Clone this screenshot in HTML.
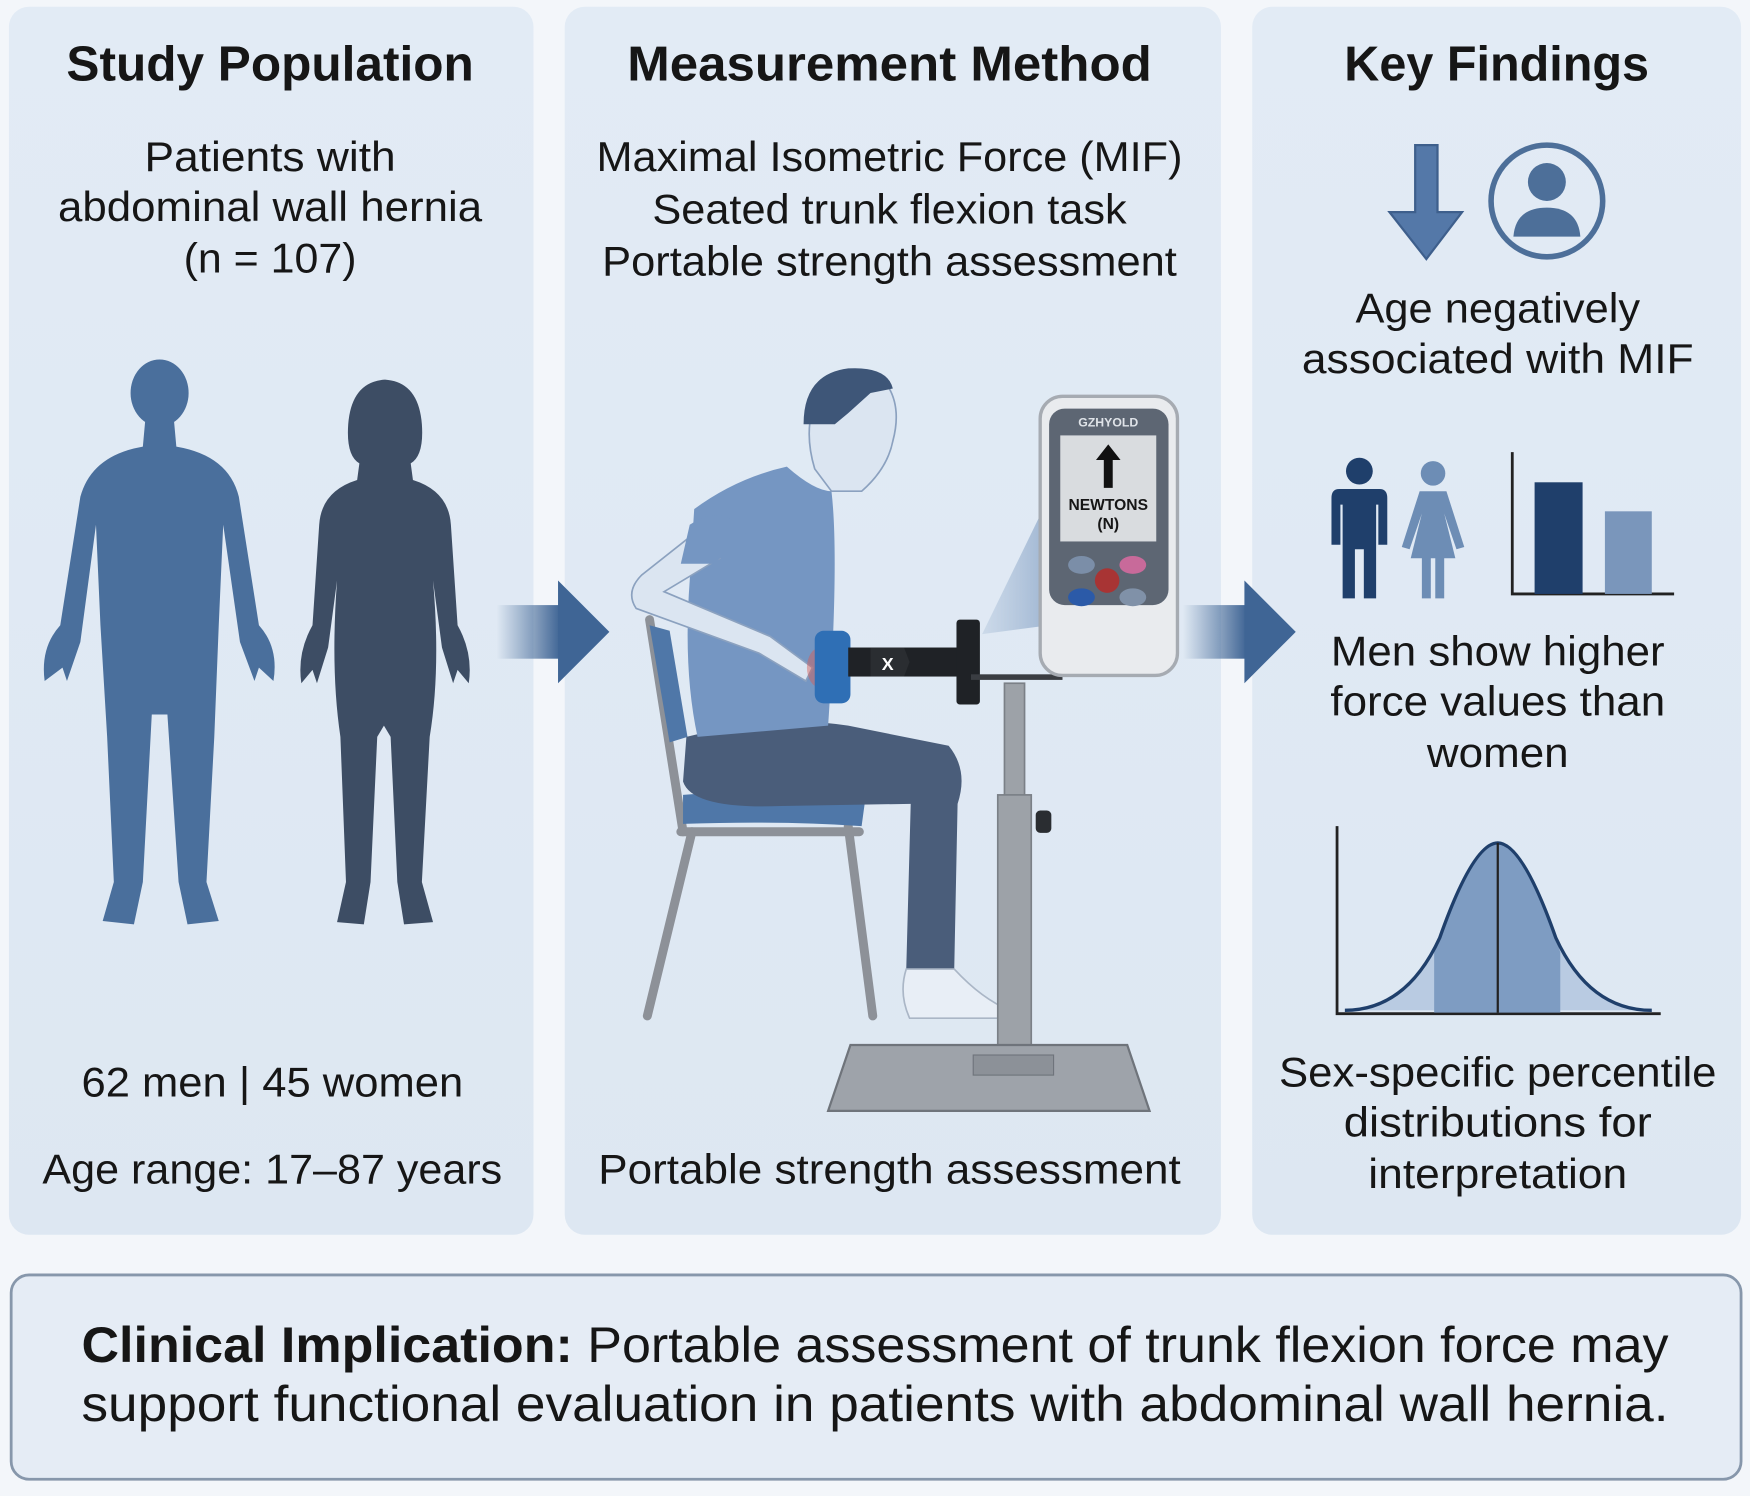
<!DOCTYPE html>
<html><head><meta charset="utf-8"><style>
html,body{margin:0;padding:0;background:#f3f6fa;}
svg{display:block;}
text{font-family:"Liberation Sans",sans-serif;fill:#161616;}
.t{font-weight:bold;font-size:44px;}
.b{font-size:37px;}
</style></head><body>
<svg width="1750" height="1496" viewBox="0 0 1568 1340" preserveAspectRatio="none" xmlns="http://www.w3.org/2000/svg">
<defs>
<linearGradient id="pg" x1="0" y1="0" x2="0" y2="1"><stop offset="0" stop-color="#e2ebf5"/><stop offset="1" stop-color="#dde7f2"/></linearGradient>
<linearGradient id="ag" x1="0" y1="0" x2="1" y2="0"><stop offset="0" stop-color="#3f6595" stop-opacity="0"/><stop offset="1" stop-color="#3f6595"/></linearGradient>
<linearGradient id="beam" x1="0" y1="0" x2="1" y2="0"><stop offset="0" stop-color="#9fb6d2" stop-opacity="0.3"/><stop offset="1" stop-color="#8ea8c9" stop-opacity="0.8"/></linearGradient>
</defs>
<rect width="1568" height="1340" fill="#f3f6fa"/>
<rect x="8" y="6" width="470" height="1100" rx="18" fill="url(#pg)"/>
<rect x="506" y="6" width="588" height="1100" rx="18" fill="url(#pg)"/>
<rect x="1122" y="6" width="438" height="1100" rx="18" fill="url(#pg)"/>
<rect x="10" y="1142" width="1550" height="183" rx="16" fill="#e5ecf5" stroke="#8797ab" stroke-width="2.5"/>

<!-- arrows -->
<rect x="445" y="542" width="57" height="48" fill="url(#ag)"/>
<polygon points="500,520 546,566 500,612" fill="#3f6595"/>
<rect x="1060" y="542" width="57" height="48" fill="url(#ag)"/>
<polygon points="1115,520 1161,566 1115,612" fill="#3f6595"/>

<!-- titles -->
<text class="t" x="242" y="72" text-anchor="middle" textLength="365" lengthAdjust="spacingAndGlyphs">Study Population</text>
<text class="t" x="797" y="72" text-anchor="middle" textLength="470" lengthAdjust="spacingAndGlyphs">Measurement Method</text>
<text class="t" x="1341" y="72" text-anchor="middle" textLength="273" lengthAdjust="spacingAndGlyphs">Key Findings</text>

<text class="b" x="242" y="153" text-anchor="middle" textLength="225" lengthAdjust="spacingAndGlyphs">Patients with</text>
<text class="b" x="242" y="198" text-anchor="middle" textLength="380" lengthAdjust="spacingAndGlyphs">abdominal wall hernia</text>
<text class="b" x="242" y="244" text-anchor="middle" textLength="155" lengthAdjust="spacingAndGlyphs">(n = 107)</text>
<text class="b" x="244" y="982" text-anchor="middle" textLength="342" lengthAdjust="spacingAndGlyphs">62 men | 45 women</text>
<text class="b" x="244" y="1060" text-anchor="middle" textLength="412" lengthAdjust="spacingAndGlyphs">Age range: 17–87 years</text>

<text class="b" x="797" y="153" text-anchor="middle" textLength="525" lengthAdjust="spacingAndGlyphs">Maximal Isometric Force (MIF)</text>
<text class="b" x="797" y="200" text-anchor="middle" textLength="425" lengthAdjust="spacingAndGlyphs">Seated trunk flexion task</text>
<text class="b" x="797" y="247" text-anchor="middle" textLength="515" lengthAdjust="spacingAndGlyphs">Portable strength assessment</text>
<text class="b" x="797" y="1060" text-anchor="middle" textLength="522" lengthAdjust="spacingAndGlyphs">Portable strength assessment</text>

<text class="b" x="1342" y="289" text-anchor="middle" textLength="255" lengthAdjust="spacingAndGlyphs">Age negatively</text>
<text class="b" x="1342" y="334" text-anchor="middle" textLength="351" lengthAdjust="spacingAndGlyphs">associated with MIF</text>
<text class="b" x="1342" y="596" text-anchor="middle" textLength="299" lengthAdjust="spacingAndGlyphs">Men show higher</text>
<text class="b" x="1342" y="641" text-anchor="middle" textLength="300" lengthAdjust="spacingAndGlyphs">force values than</text>
<text class="b" x="1342" y="687" text-anchor="middle" textLength="127" lengthAdjust="spacingAndGlyphs">women</text>
<text class="b" x="1342" y="973" text-anchor="middle" textLength="392" lengthAdjust="spacingAndGlyphs">Sex-specific percentile</text>
<text class="b" x="1342" y="1018" text-anchor="middle" textLength="276" lengthAdjust="spacingAndGlyphs">distributions for</text>
<text class="b" x="1342" y="1064" text-anchor="middle" textLength="232" lengthAdjust="spacingAndGlyphs">interpretation</text>

<text x="73" y="1220" font-size="45" textLength="1422" lengthAdjust="spacingAndGlyphs"><tspan font-weight="bold">Clinical Implication:</tspan> Portable assessment of trunk flexion force may</text>
<text x="73" y="1273" font-size="45" textLength="1422" lengthAdjust="spacingAndGlyphs">support functional evaluation in patients with abdominal wall hernia.</text>

<!-- left figures -->
<g fill="#4a6f9c">
<ellipse cx="143" cy="352" rx="26" ry="30"/>
<path d="M130,378 L156,378 L158,400 Q205,408 214,445 L232,560 Q250,580 245,610 L232,598 L228,610 L215,575 L200,470 L196,560 L192,660 L185,790 L196,825 L168,828 L160,790 L150,640 L136,640 L128,790 L120,828 L92,825 L102,790 L96,660 L90,560 L86,470 L72,575 L60,610 L56,598 L40,610 Q36,580 54,560 L72,445 Q82,408 128,400 Z"/>
</g>
<g fill="#3d4d64">
<path d="M345,340 Q375,342 378,380 Q380,408 368,415 L370,430 Q402,440 404,470 L410,560 Q424,585 420,612 L410,600 L406,612 L396,580 L388,520 Q395,600 385,660 L378,790 L388,826 L362,828 L356,790 L350,660 L344,650 L338,660 L332,790 L326,828 L302,826 L310,790 L305,660 Q296,600 302,520 L294,580 L284,612 L280,600 L270,612 Q266,585 280,560 L286,470 Q288,440 320,430 L322,415 Q310,408 312,380 Q315,342 345,340 Z"/>
</g>

<!-- chair -->
<g stroke="#8d9198" stroke-width="8" fill="none" stroke-linecap="round">
<path d="M582,555 L612,745"/>
<path d="M620,745 L580,910"/>
<path d="M760,740 L782,910"/>
<path d="M610,745 L770,745"/>
</g>
<path d="M582,560 L600,565 L616,660 L600,665 Z" fill="#4f77a8"/>
<path d="M612,712 Q700,705 775,718 L772,740 Q700,735 612,738 Z" fill="#4f77a8"/>

<!-- pants -->
<path d="M615,660 Q700,640 760,650 L850,668 Q868,690 858,720 L855,868 L812,868 L816,720 L700,722 Q620,725 612,700 Z" fill="#4a5d7a"/>
<path d="M812,868 L855,868 Q880,895 905,905 L905,912 L815,912 Q805,890 812,868 Z" fill="#e8eef6" stroke="#aab6c6" stroke-width="1.5"/>
<!-- torso -->
<path d="M622,456 Q660,428 705,418 Q730,440 745,440 Q752,500 742,650 L625,660 Q612,600 618,520 Z" fill="#7596c2"/>
<!-- arm -->
<path d="M632,470 L575,515 Q560,530 570,545 L680,585 L722,610 L728,598 L690,570 L595,530 L645,500 Z" fill="#dbe5f1" stroke="#8ba1bf" stroke-width="1.5"/>
<path d="M618,470 Q650,450 668,478 L640,505 L610,505 Z" fill="#7596c2"/>
<!-- head -->
<path d="M730,420 Q718,380 735,350 Q765,325 795,345 Q808,365 800,395 Q795,420 772,440 L745,440 Z" fill="#dbe5f1" stroke="#8ba1bf" stroke-width="1.5"/>
<path d="M720,380 Q720,335 760,330 Q795,328 800,348 L780,352 L760,370 L748,380 Z" fill="#3e5678"/>
<!-- pad and bar -->
<ellipse cx="735" cy="598" rx="12" ry="18" fill="#d85a55" opacity="0.45"/>
<rect x="730" y="565" width="32" height="65" rx="8" fill="#2f6fb5"/>
<rect x="760" y="580" width="100" height="26" fill="#1f2226"/>
<path d="M780,580 L810,580 L815,593 L810,606 L780,606 Z" fill="#2a2d31"/>
<text x="790" y="600" font-size="16" font-weight="bold" style="fill:#fff">X</text>
<rect x="857" y="555" width="21" height="76" rx="3" fill="#1f2226"/>
<rect x="870" y="604" width="82" height="5" fill="#3a3d42"/>
<!-- beam -->
<polygon points="880,568 940,445 940,560" fill="url(#beam)"/>
<!-- stand -->
<rect x="900" y="612" width="18" height="330" fill="#9da2a8" stroke="#7b8087" stroke-width="1.5"/>
<rect x="894" y="712" width="30" height="230" fill="#9da2a8" stroke="#7b8087" stroke-width="1.5"/>
<rect x="928" y="726" width="14" height="20" rx="4" fill="#2a2d31"/>
<polygon points="762,936 1010,936 1030,995 742,995" fill="#9ea3aa" stroke="#6f747b" stroke-width="2"/>
<rect x="872" y="945" width="72" height="18" fill="#8c9198" stroke="#6f747b"/>
<!-- device -->
<rect x="932" y="355" width="123" height="250" rx="20" fill="#e9ebee" stroke="#a6abb2" stroke-width="3"/>
<rect x="940" y="366" width="107" height="176" rx="14" fill="#5d6673"/>
<text x="993" y="382" font-size="11" font-weight="bold" text-anchor="middle" style="fill:#dfe3e8">GZHYOLD</text>
<rect x="950" y="390" width="86" height="95" fill="#d9dcdf"/>
<path d="M993,398 L1004,412 L997,412 L997,437 L989,437 L989,412 L982,412 Z" fill="#111"/>
<text x="993" y="457" font-size="14" font-weight="bold" text-anchor="middle">NEWTONS</text>
<text x="993" y="474" font-size="14" font-weight="bold" text-anchor="middle">(N)</text>
<ellipse cx="969" cy="506" rx="12" ry="8" fill="#7b8ea8"/>
<ellipse cx="1015" cy="506" rx="12" ry="8" fill="#c86a9a"/>
<circle cx="992" cy="520" r="11" fill="#a83434"/>
<ellipse cx="969" cy="535" rx="12" ry="8" fill="#2b5aa8"/>
<ellipse cx="1015" cy="535" rx="12" ry="8" fill="#8091a8"/>

<!-- right panel icons -->
<path d="M1268,130 L1288,130 L1288,190 L1310,190 L1278,232 L1245,190 L1268,190 Z" fill="#5478a8" stroke="#3e5f8c" stroke-width="2"/>
<circle cx="1386" cy="180" r="50" fill="none" stroke="#4d6f99" stroke-width="5"/>
<circle cx="1386" cy="163" r="17" fill="#4d6f99"/>
<path d="M1356,212 Q1358,186 1386,186 Q1414,186 1416,212 Z" fill="#4d6f99"/>
<g fill="#1f3f6b">
<circle cx="1218" cy="422" r="12"/>
<path d="M1200,438 L1236,438 Q1243,438 1243,446 L1243,488 L1235,488 L1235,452 L1233,452 L1233,536 L1222,536 L1222,492 L1214,492 L1214,536 L1203,536 L1203,452 L1201,452 L1201,488 L1193,488 L1193,446 Q1193,438 1200,438 Z"/>
</g>
<g fill="#6d8db5">
<circle cx="1284" cy="424" r="11"/>
<path d="M1272,440 L1296,440 L1312,490 L1305,492 L1294,460 L1304,500 L1294,500 L1294,536 L1286,536 L1286,500 L1282,500 L1282,536 L1274,536 L1274,500 L1264,500 L1274,460 L1263,492 L1256,490 Z"/>
</g>
<path d="M1355,405 L1355,532 L1500,532" fill="none" stroke="#222" stroke-width="2.5"/>
<rect x="1375" y="432" width="43" height="100" fill="#1f3f6b"/>
<rect x="1438" y="458" width="42" height="74" fill="#7a96bb"/>
<path d="M1198,740 L1198,908 L1488,908" fill="none" stroke="#222" stroke-width="2.5"/>
<path d="M1205,905 Q1260,905 1290,840 Q1320,755 1342,755 Q1364,755 1394,840 Q1424,905 1480,905 Z" fill="#b9cbe2"/>
<path d="M1285,853 Q1318,755 1342,755 Q1366,755 1398,853 L1398,907 L1285,907 Z" fill="#7e9cc2"/>
<path d="M1205,905 Q1260,905 1290,840 Q1320,755 1342,755 Q1364,755 1394,840 Q1424,905 1480,905" fill="none" stroke="#1f3f6b" stroke-width="3"/>
<line x1="1342" y1="755" x2="1342" y2="907" stroke="#222" stroke-width="2"/>
</svg>
</body></html>
